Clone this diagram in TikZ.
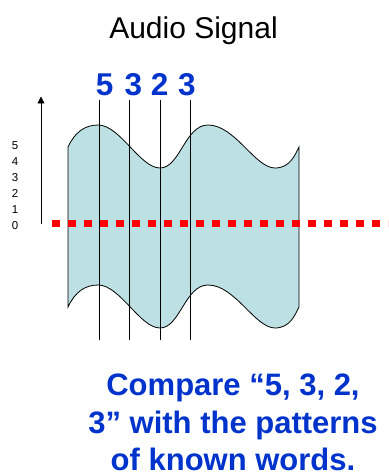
\documentclass[tikz,border=0pt]{standalone}
\usepackage{fontspec}
\setmainfont{Liberation Sans}
\usepackage{xcolor}
\usepackage{tikz}
\usetikzlibrary{arrows.meta}
\definecolor{wavefill}{HTML}{BCE0E3}
\definecolor{digitblue}{HTML}{0033CC}
\definecolor{zerored}{HTML}{FF0000}

\begin{document}
\begin{tikzpicture}[x=1pt, y=-1pt, every node/.style={inner sep=0pt},
    digit/.style={anchor=base, text=digitblue, font=\fontsize{31.5}{36}\selectfont\bfseries},
    level/.style={anchor=base, font=\fontsize{11.5}{13}\selectfont},
    sampleline/.style={black, line width=0.8pt}]
        \useasboundingbox (0,0) rectangle (388,476);
        \node[anchor=base, font=\fontsize{30}{35}\selectfont] (title) at (193.5,38.3) {Audio Signal};
        % the waveform band
        \draw[fill=wavefill, line width=0.8pt] (68,147) .. controls (75,132) and (85,125) .. (98,125)
            .. controls (120,125) and (140,168) .. (160,168) .. controls (180,168) and (185,125) .. (208,125)
            .. controls (235,125) and (255,168) .. (275,168) .. controls (290,168) and (295,155) .. (299,147)
            -- (299,307) .. controls (295,315) and (290,328) .. (275,328)
            .. controls (255,328) and (235,285) .. (208,285) .. controls (185,285) and (180,328) .. (160,328)
            .. controls (140,328) and (120,285) .. (98,285) .. controls (85,285) and (75,292) .. (68,307) -- cycle;
        % zero level
        \coordinate (zerostart) at (52,223.6);
        \coordinate (zeroend) at (388,223.6);
        \draw[zerored, line width=7.3pt, dash pattern=on 8pt off 8pt] (zerostart) -- (zeroend);
        % sample instants
        \foreach \x in {99,129.5,160,190.3}{\draw[sampleline] (\x,100) -- (\x,340);}
        \foreach \d/\x [count=\i] in {5/104.7,3/133.5,2/159.7,3/187}{\node[digit] (d\i) at (\x,96) {\d};}
        % amplitude axis
        \coordinate (axisfoot) at (41,224);
        \coordinate (axistip) at (41,96.5);
        \draw[-{Triangle[length=7pt,width=7pt]}, line width=0.8pt] (axisfoot) -- (axistip);
        \foreach \v in {0,...,5}{\node[level] (lvl\v) at ({15},{229.3-16*\v}) {\v};}
        \node[anchor=north, align=center, text=digitblue, font=\fontsize{31}{37.5}\selectfont\bfseries] (compare) at (233,374)
            {Compare “5, 3, 2,\\3” with the patterns\\of known words.};
      \end{tikzpicture}
\end{document}
